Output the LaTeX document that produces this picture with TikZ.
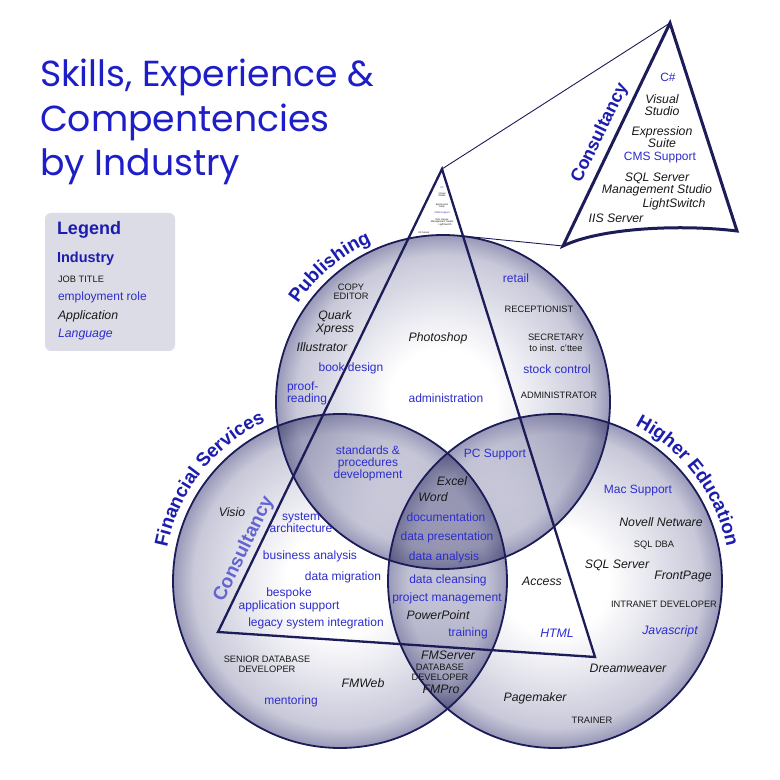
\documentclass[tikz,border=0pt]{standalone}
\usepackage{fontspec}
\setmainfont{Liberation Sans}
\newfontfamily\titlefont{Poppins}
\usetikzlibrary{decorations.text,calc}
\definecolor{navy}{RGB}{28,28,88}
\definecolor{roleblue}{RGB}{45,45,205}
\definecolor{indblue}{RGB}{28,28,175}
\definecolor{titleblue}{RGB}{30,30,200}
\definecolor{consblue}{RGB}{100,100,210}
\definecolor{legfill}{RGB}{220,220,230}
\definecolor{vA}{RGB}{228,228,237}
\definecolor{vB}{RGB}{200,200,217}
\definecolor{vC}{RGB}{152,152,184}
\definecolor{ink}{RGB}{25,25,25}
\pgfdeclareradialshading{venn}{\pgfpoint{0bp}{0bp}}{color(0bp)=(white); color(8bp)=(white); color(15bp)=(vA); color(22bp)=(vB); color(25bp)=(vC); color(50bp)=(vC)}
\newcommand\fsz[1]{\fontsize{#1}{#1}\selectfont}
\begin{document}
\begin{tikzpicture}[x=1pt,y=1pt,
  every node/.style={inner sep=0pt, outer sep=0pt},
  role/.style={font=\fontsize{12}{13.5}\selectfont, text=roleblue, align=center},
  app/.style={font=\fontsize{12.3}{12.6}\selectfont\itshape, text=ink, align=center},
  lang/.style={font=\fontsize{12.3}{13}\selectfont\itshape, text=roleblue, align=center},
  job/.style={font=\fontsize{9.3}{9.6}\selectfont, text=ink, align=center},
  mini/.style={font=\fontsize{2.5}{2.4}\selectfont\itshape, text=ink, align=center},
  miniblue/.style={font=\fontsize{2.5}{2.4}\selectfont, text=roleblue, align=center},
  tri/.style={draw=navy, line width=2.3pt, line join=miter},
  conn/.style={draw=navy, line width=0.9pt},
  rim/.style={draw=navy, line width=1.8pt},
  venncircle/.style={shading=venn, blend mode=multiply},
  curvelabel/.style={decorate, decoration={text along path, text align=center, text color=indblue, text={|\fsz{19}\bfseries|#1}}},
]
\useasboundingbox (0,0) rectangle (780,780);
\fill[white] (0,0) rectangle (780,780);

% title
\node[anchor=base west, font=\titlefont\fsz{36.2}, text=titleblue] (title1) at (40,693) {Skills, Experience \&};
\node[anchor=base west, font=\titlefont\fsz{36.2}, text=titleblue] (title2) at (40,648) {Compentencies};
\node[anchor=base west, font=\titlefont\fsz{36.2}, text=titleblue] (title3) at (40,604) {by Industry};

% legend
\node[fill=legfill, rounded corners=6pt, minimum width=130pt, minimum height=138pt] (legend) at (110,498) {};
\node[anchor=west, font=\fsz{18}\bfseries, text=indblue] (lgd) at (57,550) {Legend};
\node[anchor=west, font=\fsz{14.5}\bfseries, text=indblue] (lgi) at (57,521) {Industry};
\node[anchor=west, job] (lgj) at (58,501) {JOB TITLE};
\node[anchor=west, role] (lgr) at (58,483) {employment role};
\node[anchor=west, app] (lga) at (58,464) {Application};
\node[anchor=west, lang] (lgl) at (58,445) {Language};

% circles
\coordinate (P) at (443,378);
\coordinate (F) at (340,199);
\coordinate (H) at (555,199);
\shade[venncircle] (P) circle (167);
\shade[venncircle] (F) circle (167);
\shade[venncircle] (H) circle (167);
\draw[rim] (P) circle (167);
\draw[rim] (F) circle (167);
\draw[rim] (H) circle (167);

% consultancy triangle
\coordinate (tA) at (442,611);
\coordinate (tL) at (218,148);
\coordinate (tR) at (595,123);
\coordinate (cR) at (463,544);
\draw[tri] (tA) -- (tL) -- (tR) -- cycle;

% zoomed triangle
\coordinate (bA) at (670,757);
\coordinate (bL) at (563,534);
\coordinate (bR) at (737,549);
\draw[conn] (tA) -- (bA);
\draw[conn] (cR) -- (bL);
\filldraw[fill=white, draw=navy, line width=3pt, line join=miter] (bA) -- (bL) .. controls (600,552) and (680,556) .. (bR) -- cycle;
\node[rotate=64, font=\fsz{18}\bfseries, text=indblue] (zcons) at (600,647) {Consultancy};
\node[role] (zcs) at (668,703) {C\#};
\node[app] (zvs) at (662,675) {Visual\\Studio};
\node[app] (zes) at (662,643) {Expression\\Suite};
\node[role] (zcms) at (660,622) {CMS Support};
\node[app] (zsql) at (657,595.5) {SQL Server\\Management Studio};
\node[app] (zls) at (674,576) {LightSwitch};
\node[app] (ziis) at (616,562) {IIS Server};

% mini texts in the small triangle
\node[miniblue] (mcs) at (442,592.3) {C\#};
\node[mini] (mvs) at (442,585.2) {Visual\\Studio};
\node[mini] (mes) at (442,574.5) {Expression\\Suite};
\node[miniblue] (mcms) at (442,566.7) {CMS Support};
\node[mini] (msql) at (442,559) {SQL Server\\Management Studio};
\node[mini] (mls) at (445,555.3) {LightSwitch};
\node[mini] (miis) at (424,547.7) {IIS Server};

% curved industry labels
\path[curvelabel=Publishing] ($(P)+(175:175)$) arc[start angle=175, end angle=85, radius=175];
\path[curvelabel=Financial Services] ($(F)+(190:176)$) arc[start angle=190, end angle=94, radius=176];
\path[curvelabel=Higher Education] ($(H)+(85:175)$) arc[start angle=85, end angle=-11, radius=175];
\node[rotate=64, font=\fsz{19}\bfseries, text=consblue] (fcons) at (244,231) {Consultancy};

% publishing
\node[job, font=\fontsize{9.3}{8.5}\selectfont] (copy) at (351,488) {COPY\\EDITOR};
\node[app] (quark) at (335,457) {Quark\\Xpress};
\node[app] (illus) at (322,433) {Illustrator};
\node[role] (book) at (351,412) {book design};
\node[role, anchor=west, align=left, font=\fontsize{12}{11.5}\selectfont] (proof) at (287,386.5) {proof-\\reading};
\node[app] (photo) at (438,442) {Photoshop};
\node[role] (admin) at (446,382) {administration};
\node[role] (retail) at (516,502) {retail};
\node[job] (recep) at (539,471) {RECEPTIONIST};
\node[job] (secr) at (556,443) {SECRETARY};
\node[job] (inst) at (556,432) {to inst. c'ttee};
\node[role] (stock) at (557,411) {stock control};
\node[job] (adminj) at (559,385) {ADMINISTRATOR};

% overlaps and centre
\node[role, font=\fontsize{12}{12}\selectfont] (stand) at (368,317) {standards \&\\procedures\\development};
\node[role] (pcs) at (495,325) {PC Support};
\node[app] (excel) at (452,299) {Excel};
\node[app] (word) at (433,283) {Word};
\node[role] (doc) at (446,263) {documentation};
\node[role] (dpres) at (447,243) {data presentation};
\node[role] (danal) at (444,223) {data analysis};
\node[role] (dclean) at (448,200) {data cleansing};
\node[role] (pm) at (447,182) {project management};
\node[app] (ppt) at (438,165) {PowerPoint};
\node[role] (train) at (468,147) {training};
\node[app] (fmserv) at (448,125) {FMServer};
\node[job] (dbdev) at (440,107.5) {DATABASE\\DEVELOPER};
\node[app] (fmpro) at (441,91) {FMPro};

% financial services
\node[app] (visio) at (232,268) {Visio};
\node[role, font=\fontsize{12}{11.7}\selectfont] (sysarch) at (301,257.5) {system\\architecture};
\node[role] (busan) at (310,224) {business analysis};
\node[role] (dmig) at (343,203) {data migration};
\node[role, font=\fontsize{12}{13.3}\selectfont] (besp) at (289,180) {bespoke\\application support};
\node[role] (legacy) at (316,157) {legacy system integration};
\node[job, font=\fontsize{9.3}{10}\selectfont] (sdd) at (267,116) {SENIOR DATABASE\\DEVELOPER};
\node[app] (fmweb) at (363,97) {FMWeb};
\node[role] (mentor) at (291,79) {mentoring};

% higher education
\node[role] (mac) at (638,289) {Mac Support};
\node[app] (novell) at (661,258) {Novell Netware};
\node[job] (sqldba) at (654,235) {SQL DBA};
\node[app] (sqlserv) at (617,215) {SQL Server};
\node[app] (front) at (683,203) {FrontPage};
\node[job] (intra) at (664,176) {INTRANET DEVELOPER};
\node[lang] (js) at (670,149) {Javascript};
\node[app] (access) at (542,199) {Access};
\node[lang] (html) at (557,147) {HTML};
\node[app] (dream) at (628,112) {Dreamweaver};
\node[app] (pagem) at (535,82) {Pagemaker};
\node[job] (trainer) at (592,60) {TRAINER};
\end{tikzpicture}
\end{document}
